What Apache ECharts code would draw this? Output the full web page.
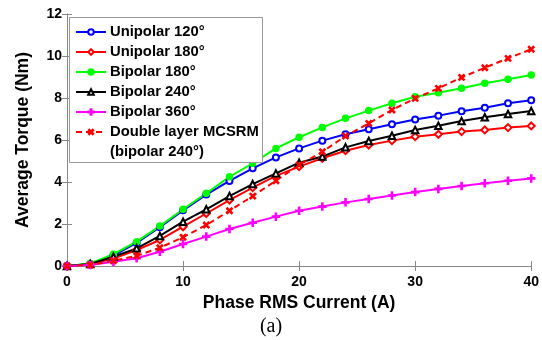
<!DOCTYPE html>
<html>
<head>
<meta charset="utf-8">
<script src="https://cdn.jsdelivr.net/npm/echarts@6/dist/echarts.min.js"></script>
<style>html,body{margin:0;padding:0;background:#fff}#c{width:542px;height:340px}</style>
</head>
<body>
<div id="c"></div>
<script>
var current = [0,2,4,6,8,10,12,14,16,18,20,22,24,26,28,30,32,34,36,38,40];
var unipolar120 = [0,0.1,0.5,1.1,1.85,2.65,3.4,4.05,4.65,5.17,5.6,5.97,6.27,6.51,6.75,6.98,7.16,7.37,7.54,7.75,7.89];
var unipolar180 = [0,0.08,0.35,0.76,1.24,1.87,2.5,3.14,3.73,4.29,4.73,5.13,5.49,5.76,5.97,6.16,6.27,6.4,6.48,6.59,6.67];
var bipolar180 = [0,0.12,0.56,1.16,1.9,2.7,3.46,4.25,4.89,5.6,6.13,6.6,7.03,7.4,7.75,8.06,8.25,8.46,8.7,8.89,9.1];
var bipolar240 = [0,0.1,0.44,0.84,1.43,2.11,2.7,3.33,3.9,4.41,4.92,5.21,5.65,5.95,6.2,6.48,6.68,6.9,7.08,7.24,7.38];
var bipolar360 = [0,0.05,0.2,0.37,0.68,1.05,1.4,1.76,2.06,2.35,2.63,2.83,3.03,3.19,3.36,3.52,3.67,3.81,3.94,4.06,4.17];
var doubleLayer = [0,0.05,0.25,0.48,0.87,1.37,1.95,2.63,3.33,4.06,4.81,5.44,6.19,6.79,7.43,7.98,8.46,8.98,9.44,9.89,10.32];
var xTicks = [0,10,20,30,40];
var yTicks = [0,2,4,6,8,10,12];

function pairs(arr){ return arr.map(function(v,i){ return [current[i], v]; }); }
var plusPath = 'path://M-1,-0.16 L-0.16,-0.16 L-0.16,-1 L0.16,-1 L0.16,-0.16 L1,-0.16 L1,0.16 L0.16,0.16 L0.16,1 L-0.16,1 L-0.16,0.16 L-1,0.16 Z';
var FONT = 'Liberation Sans, Arial, sans-serif';

function mk(name, data, color, symbol, size, dashed, rotate){
  return {
    name: name, type: 'line', data: pairs(data), xAxisIndex: 0, yAxisIndex: 0,
    symbol: symbol, symbolSize: size, symbolRotate: rotate || 0, showAllSymbol: true,
    lineStyle: {color: color, width: 2, type: dashed ? [6,4] : 'solid'},
    itemStyle: {color: color, borderColor: color, borderWidth: 1.5},
    emphasis: {disabled: true}
  };
}

var series = [
  mk('Unipolar 120°', unipolar120, '#0000FF', 'emptyCircle', 6),
  mk('Unipolar 180°', unipolar180, '#FF0000', 'emptyDiamond', 7),
  mk('Bipolar 180°', bipolar180, '#00FF00', 'circle', 6),
  mk('Bipolar 240°', bipolar240, '#000000', 'emptyTriangle', 6.5),
  mk('Bipolar 360°', bipolar360, '#FF00FF', plusPath, 7),
  mk('Double layer MCSRM', doubleLayer, '#FF0000', plusPath, 7, true, 45)
];

var axisCommon = {
  min: 0,
  axisLine: {show: true, lineStyle: {color: '#888', width: 1}},
  axisTick: {show: true, inside: true, length: 5, lineStyle: {color: '#888'}},
  splitLine: {show: false}
};

var chart = echarts.init(document.getElementById('c'));
chart.setOption({
  animation: false,
  backgroundColor: '#fff',
  grid: {left: 67, right: 10, top: 14, bottom: 74, containLabel: false},
  xAxis: [
    Object.assign({}, axisCommon, {type: 'value', max: 40, interval: 10, position: 'bottom',
      name: 'Phase RMS Current (A)', nameLocation: 'middle', nameGap: 28,
      nameTextStyle: {fontFamily: FONT, fontWeight: 'bold', fontSize: 17.5, color: '#000'},
      axisLabel: {fontFamily: FONT, fontWeight: 'bold', fontSize: 14, color: '#000', margin: 9,
        formatter: function(v){ return xTicks.indexOf(v) >= 0 ? String(v) : ''; }}}),
    Object.assign({}, axisCommon, {type: 'value', max: 40, interval: 10, position: 'top', axisLabel: {show: false}})
  ],
  yAxis: [
    Object.assign({}, axisCommon, {type: 'value', max: 12, interval: 2, position: 'left',
      name: 'Average Torque (Nm)', nameLocation: 'middle', nameGap: 35,
      nameTextStyle: {fontFamily: FONT, fontWeight: 'bold', fontSize: 17.5, color: '#000'},
      axisLabel: {fontFamily: FONT, fontWeight: 'bold', fontSize: 14, color: '#000', margin: 5,
        formatter: function(v){ return yTicks.indexOf(v) >= 0 ? String(v) : ''; }}}),
    Object.assign({}, axisCommon, {type: 'value', max: 12, interval: 2, position: 'right', axisLabel: {show: false}})
  ],
  legend: {
    orient: 'vertical', left: 69, top: 22, padding: [0, 6, 0, 6],
    itemWidth: 30, itemHeight: 7, itemGap: 0,
    textStyle: {fontFamily: FONT, fontWeight: 'bold', fontSize: 14.8, lineHeight: 20, height: 20, color: '#000', padding: [0,0,0,-1]},
    data: series.map(function(s){ return s.name; }),
    z: 10
  },
  graphic: [
    {type: 'rect', left: 69, top: 17, z: 5, shape: {width: 193, height: 145},
      style: {fill: '#fff', stroke: '#999', lineWidth: 1}},
    {type: 'text', left: 110, top: 144, z: 11,
      style: {text: '(bipolar 240°)', font: 'bold 14.8px ' + FONT, fill: '#000'}},
    {type: 'text', left: 'center', top: 317, z: 11,
      style: {text: '(a)', font: '20px Liberation Serif, Times New Roman, serif', fill: '#000'}}
  ],
  series: series
});
</script>
</body>
</html>
